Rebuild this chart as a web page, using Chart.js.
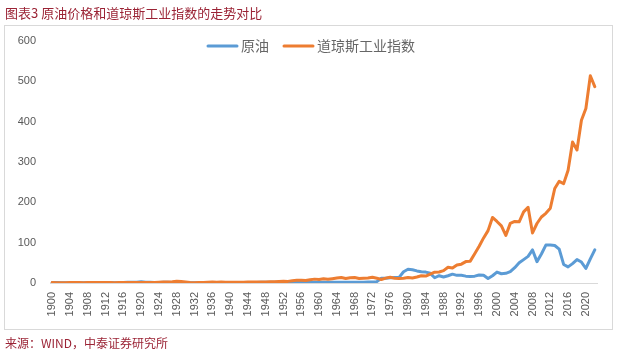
<!DOCTYPE html>
<html>
<head>
<meta charset="utf-8">
<script src="https://cdn.jsdelivr.net/npm/chart.js@4"></script>
<style>
html,body{margin:0;padding:0;background:#fff;}
#wrap{position:relative;width:620px;height:353px;}
canvas{display:block;}
</style>
</head>
<body>
<div id="wrap"><canvas id="c" width="620" height="353"></canvas></div>
<script>
// ---- data ----
const years = [];
for (let y = 1900; y <= 2022; y++) years.push(String(y));
const tickYears = ['1900','1904','1908','1912','1916','1920','1924','1928','1932','1936','1940','1944','1948','1952','1956','1960','1964','1968','1972','1976','1980','1984','1988','1992','1996','2000','2004','2008','2012','2016','2020'];
const yTicks = [0,100,200,300,400,500,600];
const oil = [
 1.2,1.0,0.8,0.9,0.9,0.6,0.7,0.7,0.7,0.7,
 0.6,0.6,0.7,1.0,0.8,0.6,1.1,1.6,2.0,2.0,
 3.1,1.7,1.6,1.3,1.4,1.7,1.9,1.3,1.2,1.3,
 1.2,0.7,0.9,0.7,1.0,1.0,1.1,1.2,1.1,1.0,
 1.0,1.1,1.2,1.2,1.2,1.1,1.1,1.9,2.0,1.8,
 1.7,1.7,1.7,1.9,1.9,1.9,1.9,1.9,2.1,2.1,
 1.9,1.8,1.8,1.8,1.8,1.8,1.8,1.8,1.8,1.8,
 1.8,2.2,2.5,3.3,11.6,11.5,12.8,13.9,14.0,28,
 34,33,30,28,27,24,13,18,15,18,
 22,19,19,17,16,17,20,19,11,18,
 27,23,24,28,38,50,58,66,82,53,
 72,94,94,93,84,46,40,48,58,52,
 36,60,82
];
const dow = [
 1.0,0.9,0.9,0.7,1.0,1.4,1.3,0.8,1.2,1.4,
 1.2,1.2,1.2,1.1,0.8,1.4,1.3,1.1,1.2,1.5,
 1.0,1.1,1.4,1.4,1.7,2.2,2.2,2.9,4.2,3.5,
 2.3,1.1,0.8,1.4,1.5,2.0,2.5,1.7,2.2,2.1,
 1.9,1.6,1.7,1.9,2.2,2.7,2.5,2.6,2.5,2.8,
 3.3,3.8,4.1,4.0,5.7,6.9,7.1,6.2,8.3,9.6,
 8.7,10.3,9.2,10.8,12.4,13.7,11.1,12.8,13.4,11.3,
 11.9,12.6,14.4,12.0,8.7,12.1,14.2,11.8,11.4,11.9,
 13.6,12.4,14.8,17.8,17.1,21.9,26.8,27.4,30.7,38.9,
 37.2,44.8,46.7,53.1,54.2,72.4,91.2,111.8,129.9,162.6,
 152.6,141.7,118.0,147.8,152.5,151.6,176.3,187.6,124.1,147.5,
 163.7,172.8,185.3,234.4,252.1,246.4,279.5,349.6,329.9,403.6,
 432.8,513.9,487
];
const seriesNames = ['原油','道琼斯工业指数'];
const titleText = '图表3 原油价格和道琼斯工业指数的走势对比';
const sourceText = '来源：WIND，中泰证券研究所';

const CJK = '"Noto Sans CJK SC","Noto Sans",sans-serif';
const RED = '#9b2335';
const GRAY = '#595959';

const decor = {
  id: 'decor',
  beforeDraw(chart) {
    const ctx = chart.ctx;
    ctx.save();
    ctx.fillStyle = '#fff';
    ctx.fillRect(0, 0, chart.width, chart.height);
    ctx.strokeStyle = '#d9d9d9';
    ctx.lineWidth = 1;
    ctx.strokeRect(4.5, 25.5, 608, 304);
    ctx.fillStyle = RED;
    ctx.textBaseline = 'middle';
    ctx.textAlign = 'left';
    ctx.font = '13px ' + CJK;
    ctx.fillText(titleText, 5, 13);
    ctx.font = '12px ' + CJK;
    ctx.fillText(sourceText, 5, 343);
    ctx.restore();
  },
  afterDraw(chart) {
    const ctx = chart.ctx;
    ctx.save();
    ctx.font = '14px ' + CJK;
    ctx.textBaseline = 'middle';
    ctx.textAlign = 'left';
    const ly = 46;
    const starts = [207, 283];
    chart.data.datasets.forEach((ds, i) => {
      const x0 = starts[i];
      ctx.strokeStyle = ds.borderColor;
      ctx.lineWidth = 3;
      ctx.lineCap = 'round';
      ctx.beginPath();
      ctx.moveTo(x0 + 1, ly);
      ctx.lineTo(x0 + 30, ly);
      ctx.stroke();
      ctx.fillStyle = '#666666';
      ctx.fillText(ds.label, x0 + 34, ly);
    });
    ctx.restore();
  }
};

new Chart(document.getElementById('c'), {
  type: 'line',
  data: {
    labels: years,
    datasets: [
      { label: seriesNames[0], data: oil, order: 2, borderColor: '#5b9bd5', backgroundColor: '#5b9bd5', borderWidth: 3, pointRadius: 0, tension: 0, borderJoinStyle: 'round', borderCapStyle: 'round' },
      { label: seriesNames[1], data: dow, order: 1, borderColor: '#ed7d31', backgroundColor: '#ed7d31', borderWidth: 3, pointRadius: 0, tension: 0, borderJoinStyle: 'round', borderCapStyle: 'round' }
    ]
  },
  options: {
    responsive: false,
    animation: false,
    devicePixelRatio: 1,
    layout: { padding: { left: 6, right: 23, top: 41, bottom: 30 } },
    plugins: { legend: { display: false }, tooltip: { enabled: false }, title: { display: false } },
    scales: {
      x: {
        type: 'category',
        offset: true,
        grid: { display: false, drawTicks: false },
        border: { display: true, color: '#d9d9d9', width: 1 },
        ticks: {
          autoSkip: false, maxRotation: 90, minRotation: 90, padding: 9,
          color: GRAY, font: { size: 11, family: '"Liberation Sans",Arial,sans-serif' },
          callback(v) { const l = this.getLabelForValue(v); return tickYears.includes(l) ? l : ''; }
        },
        afterFit(s) { s.height = 40; }
      },
      y: {
        min: yTicks[0], max: yTicks[yTicks.length - 1],
        grid: { display: false, drawTicks: false },
        border: { display: false },
        afterBuildTicks(s) { s.ticks = yTicks.map(v => ({ value: v })); },
        ticks: { padding: 14, color: GRAY, font: { size: 11, family: '"Liberation Sans",Arial,sans-serif' } },
        afterFit(s) { s.width = 44; }
      }
    }
  },
  plugins: [decor]
});
</script>
</body>
</html>
